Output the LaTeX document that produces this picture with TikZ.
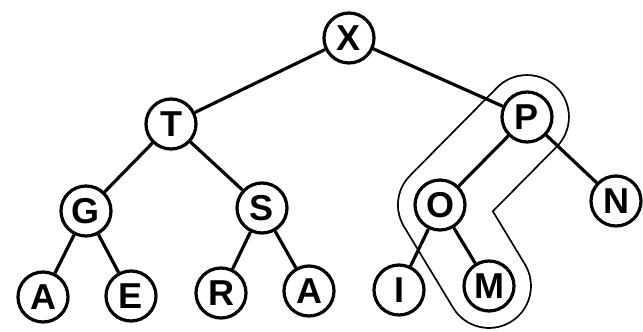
\documentclass[tikz,border=0pt]{standalone}
\usepackage{fontspec}
\setsansfont{Liberation Sans}
\usetikzlibrary{backgrounds}
\begin{document}
\begin{tikzpicture}[x=1pt,y=-1pt,
  vtx/.style={circle, draw, line width=3.2pt, minimum size=50pt, inner sep=0pt,
    font=\sffamily\bfseries\fontsize{36}{36}\selectfont},
  edge/.style={line width=3.2pt},
  hull/.style={draw=black, line width=1.8pt, double=white, double distance=82pt,
    line cap=round, line join=round}]
\useasboundingbox (0,0) rectangle (643,332);
% tree vertices
\node[vtx] (X)  at (349,38)  {X};
\node[vtx] (T)  at (171,124) {T};
\node[vtx] (P)  at (527,117) {P};
\node[vtx] (G)  at (86,211)  {G};
\node[vtx] (S)  at (262,208) {S};
\node[vtx] (O)  at (440,205) {O};
\node[vtx] (N)  at (616,201) {N};
\node[vtx] (A1) at (43,297)  {A};
\node[vtx] (E)  at (131,296) {E};
\node[vtx] (R)  at (221,293) {R};
\node[vtx] (A2) at (309,291) {A};
\node[vtx] (I)  at (399,290) {I};
\node[vtx] (M)  at (489,286) {M};
% tree edges
\draw[edge] (X) -- (T);
\draw[edge] (X) -- (P);
\draw[edge] (T) -- (G);
\draw[edge] (T) -- (S);
\draw[edge] (G) -- (A1);
\draw[edge] (G) -- (E);
\draw[edge] (S) -- (R);
\draw[edge] (S) -- (A2);
\draw[edge] (P) -- (O);
\draw[edge] (P) -- (N);
\draw[edge] (O) -- (I);
\draw[edge] (O) -- (M);
% outline around the path P-O-M
\begin{pgfonlayer}{background}
\draw[hull] (P.center) -- (O.center) -- (M.center);
\end{pgfonlayer}
\end{tikzpicture}
\end{document}
